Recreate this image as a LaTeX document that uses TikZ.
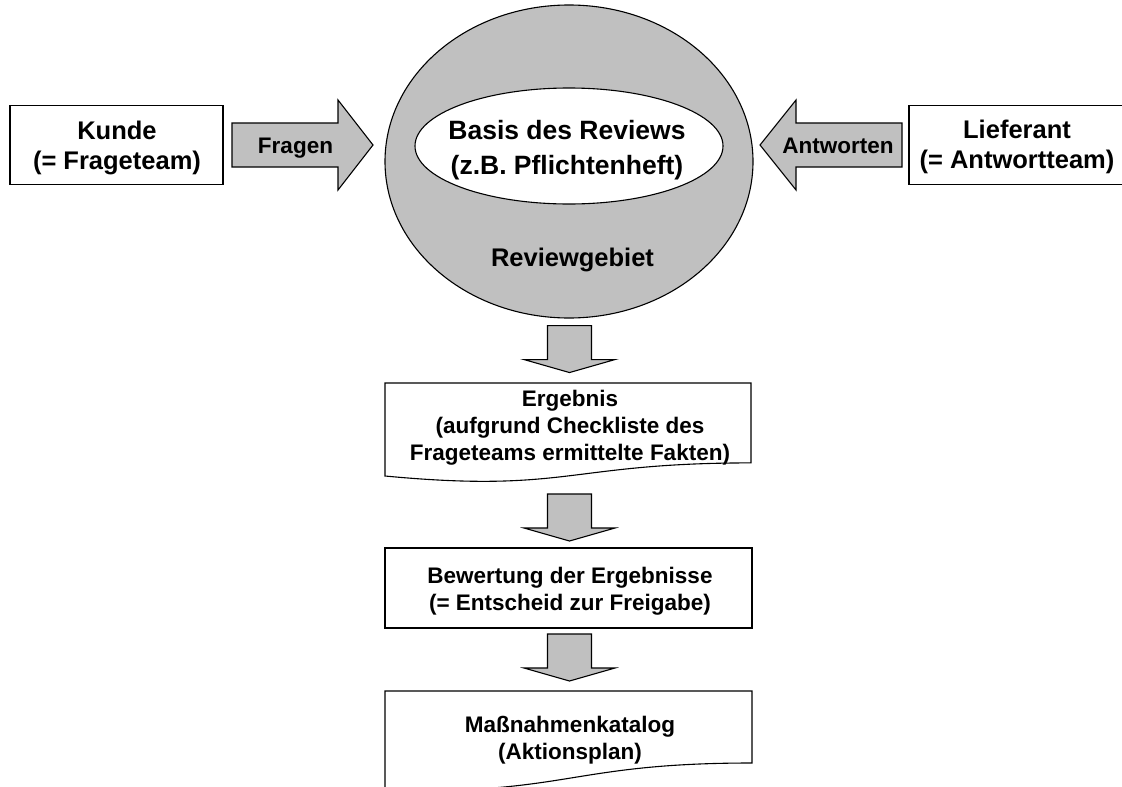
\documentclass[tikz,border=0pt]{standalone}
\usepackage{fontspec}
\setmainfont{Liberation Sans}
\usetikzlibrary{shapes.geometric}
\definecolor{areagray}{HTML}{C0C0C0}
\tikzset{
  outline/.style={draw=black, line width=1.1pt, line join=miter},
  plainbox/.style={outline, fill=white, rectangle, inner sep=0pt},
  blockarrow/.style={outline, fill=areagray},
  bigtext/.style={font=\fontsize{25.5}{30}\selectfont\bfseries, align=center, inner sep=0pt},
  basistext/.style={font=\fontsize{26.5}{35}\selectfont\bfseries, align=center, inner sep=0pt},
  smalltext/.style={font=\fontsize{22.5}{27}\selectfont\bfseries, align=center, inner sep=0pt},
  pics/downblock/.style={code={
    \draw[blockarrow] (-22,0) -- (22,0) -- (22,34) -- (45.5,34) -- (0,47)
      -- (-45.5,34) -- (-22,34) -- cycle;}},
  pics/rightblock/.style={code={
    \draw[blockarrow] (0,-22) -- (106,-22) -- (106,-45) -- (141,0)
      -- (106,45) -- (106,22) -- (0,22) -- cycle;}},
  pics/leftblock/.style={code={
    \draw[blockarrow] (0,0) -- (36,-45) -- (36,-22) -- (142,-22)
      -- (142,22) -- (36,22) -- (36,45) -- cycle;}},
}
\begin{document}
\begin{tikzpicture}[x=1pt,y=-1pt]
\useasboundingbox (0,0) rectangle (1122,787);
\clip (0,0) rectangle (1122,787);

% review area with its basis
\node[ellipse, outline, fill=areagray, minimum width=368, minimum height=313,
      inner sep=0pt] (gebiet) at (569,161.5) {};
\node[ellipse, outline, fill=white, minimum width=308, minimum height=116,
      inner sep=0pt] (basis) at (569,146) {};
\node[basistext] (basistxt) at (567,150) {Basis des Reviews\\(z.B. Pflichtenheft)};
\node[font=\fontsize{25.5}{30}\selectfont\bfseries, anchor=base, inner sep=0pt]
  (gebiettxt) at (572.5,266.5) {Reviewgebiet};

% customer and supplier
\node[plainbox, minimum width=213, minimum height=79.5] (kunde) at (116.5,145) {};
\node[bigtext] (kundetxt) at (117,147.5) {Kunde\\(= Frageteam)};
\node[plainbox, minimum width=215, minimum height=79.5] (lieferant) at (1016.5,145) {};
\node[bigtext] (lieferanttxt) at (1017,147) {Lieferant\\(= Antwortteam)};

% questions and answers
\pic at (232,145) {rightblock};
\node[font=\fontsize{22.5}{27}\selectfont\bfseries, anchor=base, inner sep=0pt]
  (fragen) at (295.5,153.3) {Fragen};
\pic at (760,145) {leftblock};
\node[font=\fontsize{22.5}{27}\selectfont\bfseries, anchor=base, inner sep=0pt]
  (antworten) at (838,153.5) {Antworten};

% result document
\pic at ([xshift=0.5pt,yshift=-7pt]gebiet.south) {downblock};
\draw[outline, fill=white] (385,383) -- (751,383) -- (751,462.9)
  .. controls (568,462.9) and (568,493.3) .. (385,476) -- cycle;
\node[smalltext] (ergebnis) at (570,427.9)
  {Ergebnis\\(aufgrund Checkliste des\\Frageteams ermittelte Fakten)};

% assessment
\pic at (569.5,494) {downblock};
\node[plainbox, minimum width=367, minimum height=80] (bewertung) at (568.5,588) {};
\node[smalltext] (bewertungtxt) at (570,591)
  {Bewertung der Ergebnisse\\(= Entscheid zur Freigabe)};

% action catalogue, its wavy lower edge runs off the page
\pic at (569.5,634) {downblock};
\draw[outline, fill=white] (385,691) -- (752,691) -- (752,763)
  .. controls (568.5,763) and (568.5,795) .. (385,790) -- cycle;
\node[smalltext] (massnahmen) at (570,739.7) {Maßnahmenkatalog\\(Aktionsplan)};
\end{tikzpicture}
\end{document}
